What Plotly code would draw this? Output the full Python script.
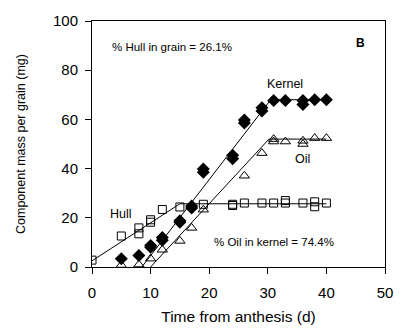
import plotly.graph_objects as go

# Observed data
hull_x = [0, 5, 8, 8, 10, 10, 12, 15, 19, 24, 24, 26, 29, 31, 33, 33, 36, 38, 38, 40]
hull_y = [2.8, 12.6, 15.9, 13.5, 19.2, 18.2, 23.4, 24.4, 25.5, 25.5, 25.0, 26.0, 26.0, 26.0, 27.0, 26.0, 26.0, 26.5, 24.5, 26.0]

kernel_x = [5, 8, 10, 10, 12, 12, 15, 15, 17, 17, 19, 19, 24, 24, 26, 26, 29, 29, 31, 33, 36, 36, 38, 40]
kernel_y = [3.4, 4.7, 8.7, 8.0, 12.0, 10.9, 18.8, 18.2, 24.8, 24.0, 39.8, 38.5, 45.4, 44.0, 59.8, 58.5, 64.7, 63.4, 67.7, 67.7, 67.7, 66.1, 68.0, 68.0]

oil_x = [5, 8, 10, 12, 15, 17, 19, 26, 29, 31, 31, 33, 36, 36, 38, 40]
oil_y = [0.8, 1.0, 3.4, 7.0, 10.6, 15.9, 23.3, 37.1, 46.3, 52.0, 51.0, 51.0, 51.3, 50.0, 52.4, 52.4]

# Fitted segmented lines
hull_fit_x = [0, 15, 40]
hull_fit_y = [2.5, 25.7, 25.7]
kernel_fit_x = [8.5, 30.5, 40]
kernel_fit_y = [0, 68, 68]
oil_fit_x = [10, 30.2, 40]
oil_fit_y = [0, 52, 52]

x_ticks = [0, 10, 20, 30, 40, 50]
y_ticks = [0, 20, 40, 60, 80, 100]

fig = go.Figure()
line_style = dict(color="black", width=1)
for fx, fy in [(hull_fit_x, hull_fit_y), (kernel_fit_x, kernel_fit_y), (oil_fit_x, oil_fit_y)]:
    fig.add_trace(go.Scatter(x=fx, y=fy, mode="lines", line=line_style, showlegend=False, hoverinfo="skip"))

fig.add_trace(go.Scatter(x=hull_x, y=hull_y, mode="markers", name="Hull",
                         marker=dict(symbol="square-open", size=8, color="black", line=dict(width=1))))
fig.add_trace(go.Scatter(x=oil_x, y=oil_y, mode="markers", name="Oil",
                         marker=dict(symbol="triangle-up-open", size=9, color="black", line=dict(width=1))))
fig.add_trace(go.Scatter(x=kernel_x, y=kernel_y, mode="markers", name="Kernel",
                         marker=dict(symbol="diamond", size=10, color="black")))

font_family = "Liberation Sans, Arial, sans-serif"
fig.update_layout(
    width=405, height=335,
    margin=dict(l=92, r=13, t=13, b=68),
    paper_bgcolor="white", plot_bgcolor="white",
    showlegend=False,
    font=dict(family=font_family, color="black"),
    xaxis=dict(range=[0, 50], tickvals=x_ticks, ticks="outside", ticklen=6, tickcolor="black",
               showline=True, linecolor="black", linewidth=1, mirror=True, showgrid=False, zeroline=False,
               ticklabelstandoff=6,
               tickfont=dict(size=15), title=dict(text="Time from anthesis (d)", font=dict(size=15.5), standoff=11)),
    yaxis=dict(range=[0, 100], tickvals=y_ticks, ticks="outside", ticklen=6, tickcolor="black",
               showline=True, linecolor="black", linewidth=1, mirror=True, showgrid=False, zeroline=False,
               ticklabelstandoff=4,
               tickfont=dict(size=15), title=dict(text="Component mass per grain (mg)", font=dict(size=12.5), standoff=24)),
)

ann = [
    dict(x=3.0, y=89.5, text="% Hull in grain = 26.1%", size=11.5, xanchor="left"),
    dict(x=45.8, y=91, text="<b>B</b>", size=12, xanchor="center"),
    dict(x=33, y=74.5, text="Kernel", size=12.5, xanchor="center"),
    dict(x=36, y=44, text="Oil", size=12.5, xanchor="center"),
    dict(x=5.0, y=21.5, text="Hull", size=12.5, xanchor="center"),
    dict(x=20.5, y=10.3, text="% Oil in kernel = 74.4%", size=11.5, xanchor="left"),
]
for a in ann:
    fig.add_annotation(x=a["x"], y=a["y"], text=a["text"], showarrow=False, xanchor=a["xanchor"],
                       yanchor="middle", font=dict(size=a["size"], color="black", family=font_family))

fig.write_html("out.html")
